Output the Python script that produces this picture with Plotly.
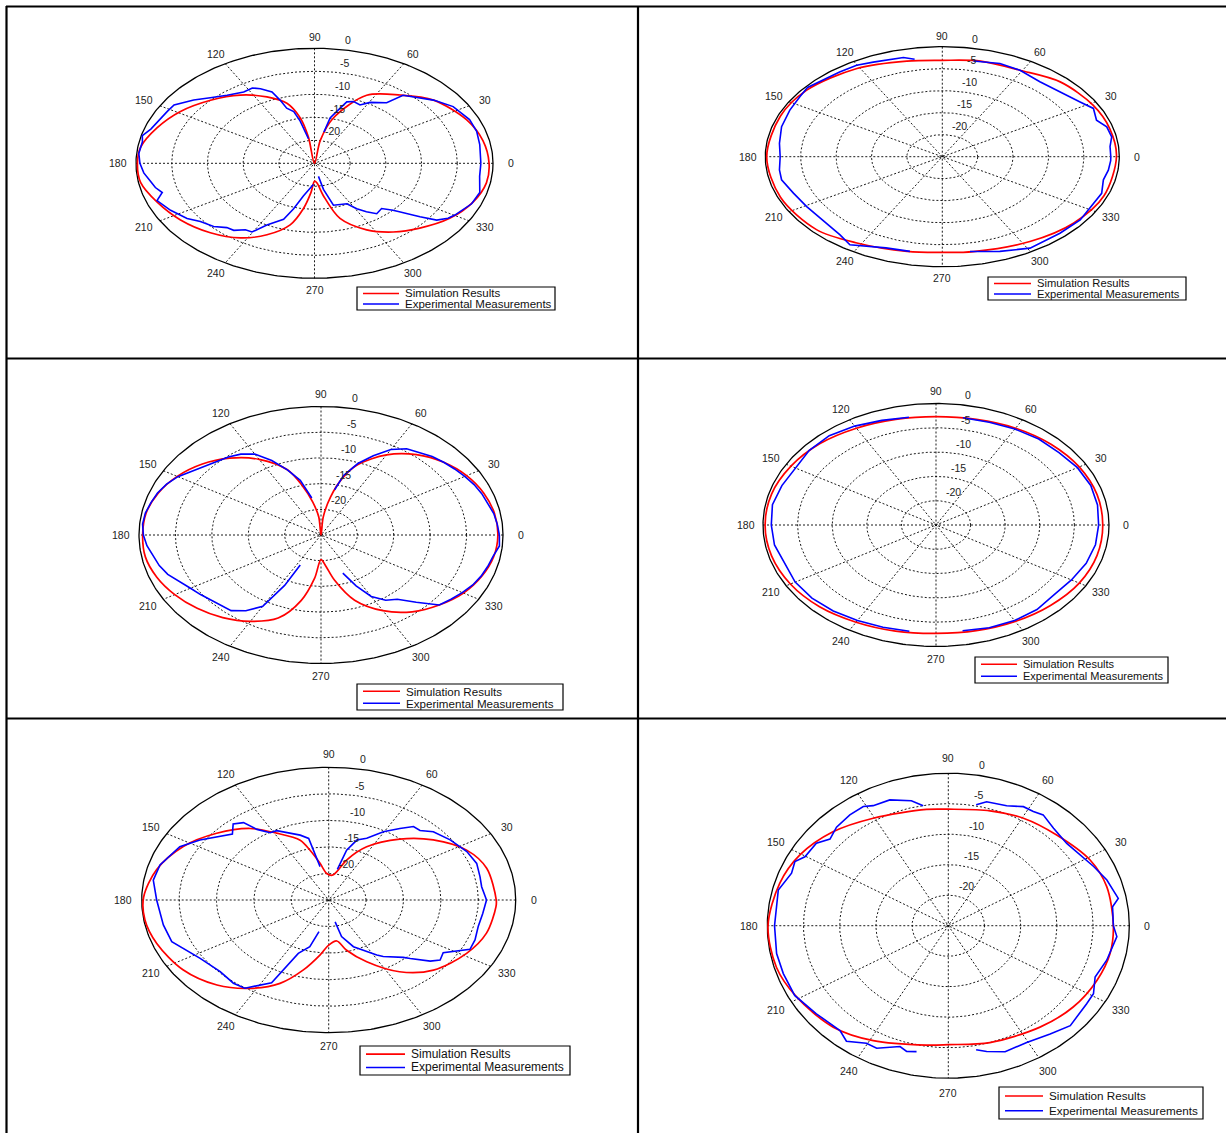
import numpy as np
import plotly.graph_objects as go

W, H = 1226, 1133
FLOOR_DB = -25.0                      # level drawn at the centre of each pattern
RING_DB = [-20, -15, -10, -5]         # dashed grid rings
RING_LABELS = ["0", "-5", "-10", "-15", "-20"]
RING_LABEL_DB = [0, -5, -10, -15, -20]
ANGLE_TICKS = list(range(0, 360, 30))
SERIES_NAMES = ["Simulation Results", "Experimental Measurements"]

# ---------------- panel 1 ----------------
p1_sim_ang = [0, 11.8, 24, 39.5, 51, 63.7, 75, 80.8, 90, 98.5, 101.5, 106.5, 114.8, 125, 136.7, 149,
              160.6, 171.8, 180, 189.8, 201, 213.3, 226, 237.4, 246.8, 255.7, 261, 265.5, 270, 274.4,
              280, 286.6, 296.8, 306.4, 316.3, 327.7, 339.2, 350, 360]
p1_sim_db = [-0.55, -0.9, -1.7, -3.4, -5.9, -8.5, -14.8, -20, -25, -19.3, -14.9, -11.4, -9.1, -6.9, -5.0, -3.1,
             -1.65, -0.4, -0.2, -0.3, -1.4, -2.55, -4.0, -5.75, -8.1, -11.2, -15.0, -18.6, -21.1, -20.75,
             -17.85, -12.5, -8.8, -6.45, -4.6, -2.6, -1.25, -0.55, -0.55]
p1_meas_ang = [0, 5, 10, 17, 23.6, 32.4, 39.5, 50, 52.5, 59.6, 63.3, 67.8, 71.3, 74.5, 77.5, 79, 88,
               99, 102.3, 104.5, 108, 109.3, 111, 115, 118, 122.6, 129.6, 135.7, 140.9, 147.2, 151.3, 162,
               166, 169, 175, 180, 185, 189.6, 193.3, 196.6, 200.2, 206.9, 213.9, 218.4, 224.2, 228.7,
               232.2, 236.2, 239.6, 243.6, 250.4, 253.5, 257.7, 268, 275,
               281, 282.5, 286.2, 297.2, 301, 304.6, 308.5, 313.7, 317.2, 321.8, 324.2, 327.4, 330.2, 336,
               338.2, 344.7, 353, 360]
p1_meas_db = [-1.7, -1.7, -1.5, -1.25, -1.3, -2.0, -3.4, -5.7, -8.4, -9.65, -10.8, -10.5, -10.9, -13.3, -14.9, -18.1, None,
              -19.6, -15.6, -13.4, -12.4, -10.5, -8.4, -7.1, -6.45, -6.6, -5.8, -4.6, -3.2, -1.6, -1.5, -0.9,
              -0.15, -0.45, -0.3, -0.55, -1.0, -1.7, -2.1, -2.75, -1.5, -2.4, -3.5, -4.6, -5.3, -6.4,
              -6.55, -7.6, -7.7, -10.0, -12.1, -14.7, -17.8, -20.4, None,
              -22.1, -19.2, -15.5, -15.1, -13.5, -12.2, -11.0, -11.4, -10.0, -6.2, -3.9, -2.8, -2.35, -1.7,
              -1.3, -1.0, -1.7, -1.7]

# ---------------- panel 2 ----------------
p2_sim_ang = [0, 15, 28.8, 45.6, 60.8, 76, 90, 103, 121, 141.7, 158, 180, 202, 223, 238, 257, 270, 281.5,
              302.7, 320.8, 338.6, 360]
p2_sim_db = [-0.4, -0.5, -0.7, -1.2, -2.5, -2.6, -3.1, -2.7, -1.6, -0.6, -0.35, -0.2, -0.35, -0.7, -1.95, -2.9,
             -3.25, -3.0, -2.1, -1.1, -0.5, -0.4]
p2_meas_ang = [0, 5.5, 10.7, 16.3, 20.8, 27.2, 32.6, 41.5, 51, 60.8, 69, 78.6, 90,
               100, 103.7, 114.4, 120.2, 127, 134, 140.4, 145.9, 153.8, 163.3, 172.5, 180, 187.5, 193, 201.5,
               210.6, 222.8, 230.9, 236.9, 249, 258, 270,
               280.3, 290.7, 300.8, 313.7, 323.6, 333.6, 339.7, 347, 352.6, 357.8, 360]
p2_meas_db = [-1.2, -1.2, -0.65, -0.8, -1.7, -1.0, -1.9, -2.8, -3.1, -2.5, -2.3, -2.8, None,
              -2.5, -1.8, -1.4, -0.95, -0.9, -0.8, -0.3, -0.7, -1.0, -1.3, -1.8, -2.1, -1.8, -1.7, -2.4,
              -2.75, -2.75, -2.1, -1.1, -2.8, -3.0, None,
              -3.1, -2.0, -0.8, -0.95, -0.8, -1.2, -1.0, -1.65, -1.35, -1.2, -1.2]

# ---------------- panel 3 ----------------
p3_sim_ang = [0, 10, 20, 30, 40, 50, 60, 70, 75, 80, 85, 90, 95, 100, 105, 110, 120, 130, 140, 150, 160, 170,
              180, 190, 200, 210, 220, 230, 240, 250, 258, 264, 270, 276, 282, 290, 300, 310, 320, 330, 340,
              350, 360]
p3_sim_db = [-0.7, -0.8, -1.2, -1.9, -3.0, -4.6, -7.0, -10.5, -13.5, -17.5, -21.5, -25, -21.5, -18.5, -15,
             -11.5, -8, -5.5, -3.6, -2.2, -1.2, -0.6, -0.5, -0.5, -1.0, -1.8, -2.8, -4.0, -5.6, -7.8, -12,
             -16.5, -20.2, -19, -16, -11.5, -8, -5.5, -3.8, -2.4, -1.5, -0.9, -0.7]
p3_meas_ang = [0, 5, 10, 15, 20, 25, 30, 35, 40, 45, 50, 55, 60, 65, 70, 75, 78, 90,
               100, 105, 110, 115, 120, 125, 130, 135, 140, 145, 150, 155, 160, 165, 170, 175, 180, 185, 190,
               195, 200, 205, 210, 215, 220, 225, 230, 235, 240, 243, 244, 270,
               292, 296, 300, 305, 310, 315, 320, 325, 330, 335, 340, 345, 350, 355, 360]
p3_meas_db = [-0.5, -0.7, -0.9, -1.3, -1.5, -1.8, -2.2, -2.6, -3.0, -3.4, -4.0, -4.5, -5.8, -8.0, -10.2, -13, -16, None,
              -17.7, -14, -11.5, -9, -6.8, -5.8, -5.2, -4.8, -4.2, -3.3, -2.3, -1.6, -1.1, -0.8, -0.5, -0.4,
              -0.6, -1.0, -1.6, -2.0, -2.6, -3.5, -4.3, -4.8, -5.3, -5.6, -5.8, -7.0, -9.0, -14, -18.5, None,
              -17, -14, -11.2, -9.5, -8.7, -6.5, -3.8, -3.2, -2.6, -2.0, -1.6, -1.3, -1.0, -0.4, -0.5]

# ---------------- panel 4 ----------------
p4_sim_ang = [0, 15, 30, 45, 60, 75, 90, 105, 120, 135, 150, 165, 180, 195, 210, 225, 240, 255, 270, 285,
              300, 315, 330, 345, 360]
p4_sim_db = [-0.9, -0.9, -1.1, -1.5, -2.0, -2.5, -2.7, -2.5, -2.0, -1.3, -0.8, -0.4, -0.3, -0.4, -0.7, -1.2,
             -1.9, -2.4, -2.7, -2.5, -2.1, -1.6, -1.1, -0.9, -0.9]
p4_meas_ang = [0, 10, 20, 30, 40, 50, 60, 70, 80, 90, 100, 110, 120, 130, 140, 150, 160, 170, 180, 190, 200,
               210, 220, 230, 240, 250, 260, 270, 280, 290, 300, 310, 320, 330, 340, 350, 360]
p4_meas_db = [-1.5, -1.3, -1.2, -1.4, -1.8, -1.9, -2.2, -2.5, -2.6, None, -2.5, -2.1, -1.5, -1.0, -1.1, -1.6,
              -1.3, -1.0, -1.2, -1.3, -1.8, -1.5, -1.6, -1.9, -2.3, -2.6, -2.8, None, -2.9, -2.5, -2.3, -2.3,
              -2.7, -2.4, -1.9, -1.6, -1.5]

# ---------------- panel 5 ----------------
p5_sim_ang = [0, 15.8, 27, 39, 50.4, 63.2, 72.4, 78.6, 84, 93, 99.5, 105, 108.7, 119, 128, 140, 152.6, 166,
              178.8, 188.7, 199.6, 214, 227, 237.7, 247.5, 255.6, 263.7, 270, 278, 284, 293.6, 305, 316.7,
              331.4, 343.5, 356.8, 360]
p5_sim_db = [-2.6, -3.05, -4.3, -7.0, -10.1, -13.75, -17.1, -19.55, -20.3, -20.0, -18.0, -15.25, -13.1, -10.6,
             -7.9, -5.45, -3.1, -1.3, -0.25, -0.15, -0.6, -1.5, -3.1, -5.3, -8.0, -11.4, -14.6, -16.5, -17.2,
             -15.3, -12.3, -8.5, -5.75, -4.0, -3.0, -2.6, -2.6]
p5_meas_ang = [0, 7, 12.3, 19.2, 26.3, 34.9, 42.6, 47, 50.7, 54.8, 60.4, 66.4, 71.6, 75.7, 78.7, 90,
               100.4, 103, 107.3, 118, 121.7, 125.8, 128, 131.7, 136, 141.5, 146.7, 153.2, 163.7, 170.9,
               180, 192, 200.5, 212.6, 222.9, 230.9, 236, 243.9, 245.9, 248, 254, 257.7, 270,
               281.8, 284, 290.6, 301.8, 304.4, 312.7, 314.7, 319.7, 322.8, 327, 333.8, 339, 346, 353, 360]
p5_meas_db = [-3.9, -4.4, -4.3, -4.05, -4.4, -5.2, -6.0, -7.1, -7.1, -8.5, -10.2, -12.3, -13.1, -15.3, -19.1, None,
              -18.6, -13.1, -12.2, -10.2, -10.1, -8.6, -6.5, -5.8, -7.1, -5.85, -4.4, -2.7, -1.5, -1.25,
              -2.0, -2.4, -2.6, -4.6, -5.2, -4.8, -4.95, -7.65, -11.2, -14.15, -15.85, -18.9, None,
              -20.8, -17.9, -15.6, -12.8, -12.1, -10.3, -9.5, -7.2, -6.3, -6.75, -3.95, -4.05, -4.4, -4.25, -3.9]

# ---------------- panel 6 ----------------
p6_sim_ang = [0, 16.3, 28.8, 44.8, 59.5, 73, 90, 99, 120.5, 136, 150.5, 163.4, 180, 196, 209, 226.3, 241.2,
              261.3, 270, 286.7, 307.3, 322.3, 336.4, 348.5, 360]
p6_sim_db = [-2.2, -2.2, -2.65, -3.9, -4.55, -5.3, -5.9, -5.7, -4.55, -2.85, -1.45, -0.7, -0.1, -0.3, -1.0,
             -2.0, -3.5, -5.2, -5.5, -5.0, -4.1, -3.2, -2.6, -2.2, -2.2]
p6_meas_ang = [0, 7.8, 10.8, 18.9, 25.8, 39.5, 47.7, 54.2, 57.9, 62, 67.7, 75.4, 79, 90,
               100, 104, 111.4, 117.8, 121, 126.8, 133.7, 139, 143.4, 150.3, 153.6, 158.3, 166, 180, 190.9,
               199, 208.3, 218.4, 229, 233.4, 239.6, 243.8, 251.4, 254.4, 258, 270,
               280.7, 284.4, 290.8, 299.5, 308.4, 315.8, 326.2, 330.9, 337.5, 345.5, 355.6, 360]
p6_meas_db = [-2.2, -2.1, -1.1, -1.85, -2.7, -3.8, -3.4, -2.6, -2.9, -2.9, -3.75, -4.0, -4.8, None,
              -5.05, -3.9, -2.85, -2.75, -2.2, -2.3, -2.65, -3.35, -2.3, -2.2, -1.35, -1.7, -0.8, -1.0, -0.85,
              -0.9, -0.9, -1.75, -2.2, -1.4, -2.65, -2.6, -4.1, -3.6, -3.9, None,
              -4.3, -3.7, -2.9, -3.0, -2.35, -1.5, -2.0, -2.05, -3.05, -2.4, -1.65, -2.2]

SERIES = [
    (p1_sim_ang, p1_sim_db, p1_meas_ang, p1_meas_db),
    (p2_sim_ang, p2_sim_db, p2_meas_ang, p2_meas_db),
    (p3_sim_ang, p3_sim_db, p3_meas_ang, p3_meas_db),
    (p4_sim_ang, p4_sim_db, p4_meas_ang, p4_meas_db),
    (p5_sim_ang, p5_sim_db, p5_meas_ang, p5_meas_db),
    (p6_sim_ang, p6_sim_db, p6_meas_ang, p6_meas_db),
]

# Panel placement on the page (pixels): centre, semi-axes of the outer ellipse,
# legend box, legend text offset and legend font size
PANELS = [
    dict(cx=314.5, cy=163.3, hw=178.5, hh=115.0, leg=(357, 287, 555, 310), tx=46, fs=11.5),
    dict(cx=942.3, cy=156.7, hw=177.0, hh=110.0, leg=(988, 277, 1186, 300), tx=47, fs=11.2),
    dict(cx=321.0, cy=535.0, hw=182.0, hh=128.5, leg=(357, 684, 563, 710), tx=47, fs=11.6),
    dict(cx=936.0, cy=525.0, hw=173.0, hh=121.5, leg=(975, 657, 1168, 683), tx=46, fs=11.0),
    dict(cx=328.7, cy=900.0, hw=187.0, hh=132.7, leg=(360, 1046, 570, 1075), tx=49, fs=12.0),
    dict(cx=948.3, cy=925.7, hw=181.0, hh=152.5, leg=(999, 1087, 1203, 1119), tx=48, fs=11.7),
]

SPAN = 1.35
FONT = "Liberation Sans, Arial, sans-serif"
RED = "#ff0000"
BLUE = "#0000ff"


def polar_xy(ang, db):
    a = np.radians(np.asarray(ang, dtype=float))
    d = np.array([np.nan if v is None else v for v in db], dtype=float)
    r = np.clip((d - FLOOR_DB) / (0.0 - FLOOR_DB), 0.0, None)
    return r * np.cos(a), r * np.sin(a)


def px(x):
    return x / W


def py(y):
    return 1.0 - y / H


fig = go.Figure()
annotations = []
shapes = []
t = np.linspace(0, 2 * np.pi, 361)

for i, (panel, (s_ang, s_db, m_ang, m_db)) in enumerate(zip(PANELS, SERIES), start=1):
    suffix = "" if i == 1 else str(i)
    xa, ya = "x" + suffix, "y" + suffix
    cx, cy, hw, hh = panel["cx"], panel["cy"], panel["hw"], panel["hh"]
    fig.layout["xaxis" + suffix] = dict(domain=[px(cx - SPAN * hw), px(cx + SPAN * hw)],
                                        range=[-SPAN, SPAN], visible=False, anchor=ya, fixedrange=True)
    fig.layout["yaxis" + suffix] = dict(domain=[py(cy + SPAN * hh), py(cy - SPAN * hh)],
                                        range=[-SPAN, SPAN], visible=False, anchor=xa, fixedrange=True)

    # dashed rings
    rx, ry = [], []
    for rdb in RING_DB:
        r = (rdb - FLOOR_DB) / (0.0 - FLOOR_DB)
        rx += list(r * np.cos(t)) + [None]
        ry += list(r * np.sin(t)) + [None]
    fig.add_trace(go.Scatter(x=rx, y=ry, mode="lines", xaxis=xa, yaxis=ya, hoverinfo="skip",
                             line=dict(color="#000000", width=0.9, dash="2px,2px")))
    # dashed spokes every 30 degrees
    sx, sy = [], []
    for a in range(0, 180, 30):
        ar = np.radians(a)
        sx += [np.cos(ar), -np.cos(ar), None]
        sy += [np.sin(ar), -np.sin(ar), None]
    fig.add_trace(go.Scatter(x=sx, y=sy, mode="lines", xaxis=xa, yaxis=ya, hoverinfo="skip",
                             line=dict(color="#000000", width=0.9, dash="2px,2px")))
    # solid outer boundary
    fig.add_trace(go.Scatter(x=np.cos(t), y=np.sin(t), mode="lines", xaxis=xa, yaxis=ya, hoverinfo="skip",
                             line=dict(color="#000000", width=1.3)))

    # simulated (smooth) and measured patterns
    x_s, y_s = polar_xy(s_ang, s_db)
    fig.add_trace(go.Scatter(x=x_s, y=y_s, mode="lines", xaxis=xa, yaxis=ya, name=SERIES_NAMES[0],
                             line=dict(color=RED, width=1.7, shape="spline", smoothing=0.9)))
    x_m, y_m = polar_xy(m_ang, m_db)
    fig.add_trace(go.Scatter(x=x_m, y=y_m, mode="lines", xaxis=xa, yaxis=ya, name=SERIES_NAMES[1],
                             line=dict(color=BLUE, width=1.6), connectgaps=False))

    # angle labels
    for a in ANGLE_TICKS:
        ar = np.radians(a)
        annotations.append(dict(x=1.1 * np.cos(ar), y=1.1 * np.sin(ar), xref=xa, yref=ya, text=str(a),
                                showarrow=False, xanchor="center", yanchor="middle",
                                font=dict(family=FONT, size=10.5, color="#222222")))
    # ring labels
    c82, s82 = np.cos(np.radians(82)), np.sin(np.radians(82))
    for lab, ldb in zip(RING_LABELS, RING_LABEL_DB):
        r = (ldb - FLOOR_DB) / (0.0 - FLOOR_DB) + 0.01
        annotations.append(dict(x=r * c82, y=r * s82, xref=xa, yref=ya, text=" " + lab,
                                showarrow=False, xanchor="left", yanchor="bottom",
                                font=dict(family=FONT, size=10.5, color="#222222")))

    # legend box
    x0, y0, x1, y1 = panel["leg"]
    shapes.append(dict(type="rect", xref="paper", yref="paper", x0=px(x0), x1=px(x1), y0=py(y1), y1=py(y0),
                       line=dict(color="#000000", width=1.2), fillcolor="#ffffff", layer="above"))
    rows = [y0 + (y1 - y0) * 0.28, y0 + (y1 - y0) * 0.74]
    for row, col, name in zip(rows, [RED, BLUE], SERIES_NAMES):
        shapes.append(dict(type="line", xref="paper", yref="paper", x0=px(x0 + 6), x1=px(x0 + panel["tx"] - 4),
                           y0=py(row), y1=py(row), line=dict(color=col, width=1.6), layer="above"))
        annotations.append(dict(x=px(x0 + panel["tx"]), y=py(row), xref="paper", yref="paper", text=name,
                                showarrow=False, xanchor="left", yanchor="middle",
                                font=dict(family=FONT, size=panel["fs"], color="#111111")))

# table frame around the six panels
frame = [
    (6, 6.5, W, 6.5), (6.5, 6, 6.5, H),
    (638, 6, 638, H),
    (6, 358.5, W, 358.5), (6, 718.5, W, 718.5),
]
for fx0, fy0, fx1, fy1 in frame:
    shapes.append(dict(type="line", xref="paper", yref="paper", x0=px(fx0), x1=px(fx1), y0=py(fy0),
                       y1=py(fy1), line=dict(color="#000000", width=2.2), layer="above"))

fig.update_layout(width=W, height=H, margin=dict(l=0, r=0, t=0, b=0), autosize=False,
                  paper_bgcolor="#ffffff", plot_bgcolor="rgba(0,0,0,0)", showlegend=False,
                  annotations=annotations, shapes=shapes)

fig.write_html("out.html")
